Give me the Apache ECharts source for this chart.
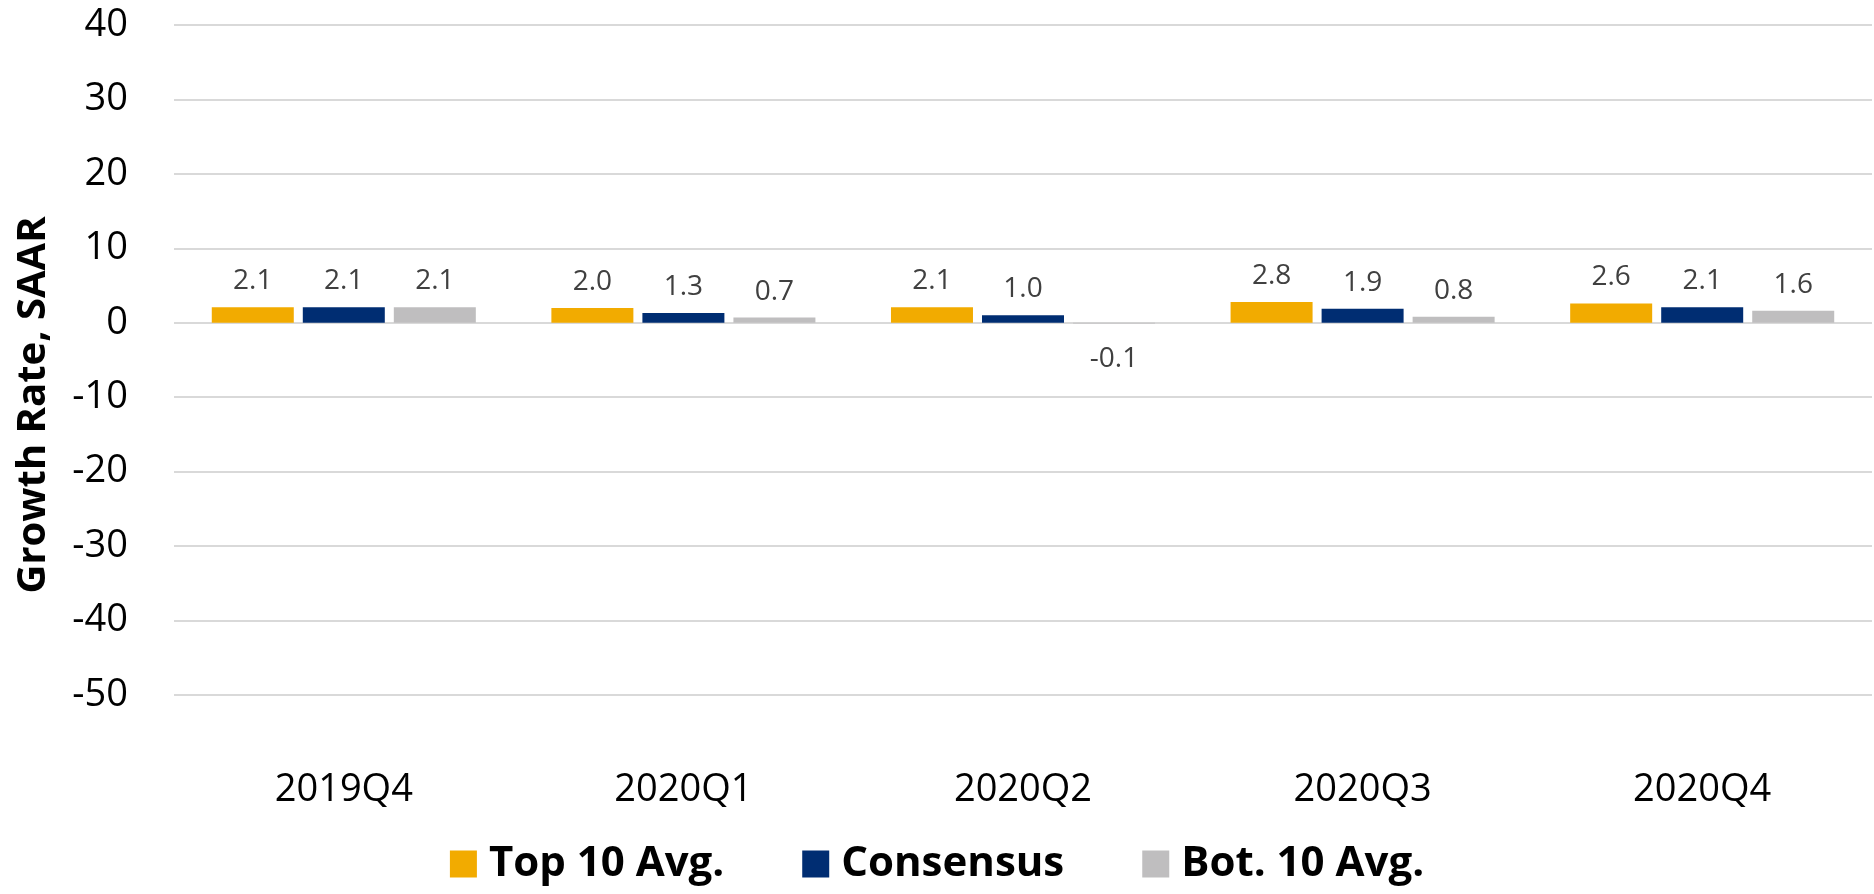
<!DOCTYPE html>
<html>
<head>
<meta charset="utf-8">
<script src="https://cdn.jsdelivr.net/npm/echarts@6/dist/echarts.min.js"></script>
<style>
  html, body { margin: 0; padding: 0; background: #fff; }
  #chart { width: 1874px; height: 894px; }
</style>
</head>
<body>
<div id="chart"></div>
<script>
// 数据
var categories = ["2019Q4", "2020Q1", "2020Q2", "2020Q3", "2020Q4"];
var top10Avg = [2.1, 2.0, 2.1, 2.8, 2.6];
var consensus = [2.1, 1.3, 1.0, 1.9, 2.1];
var bot10Avg = [2.1, 0.7, -0.1, 0.8, 1.6];
var seriesNames = ["Top 10 Avg.", "Consensus", "Bot. 10 Avg."];

var COLOR = {
  top: "#F2AB00",
  consensus: "#002D72",
  bot: "#BFBEBF",
  split: "#D9D9D9",
  axisText: "#000",
  label: "#404040"
};

function makeBar(name, data, color) {
  return {
    name: name,
    type: "bar",
    // 负值标签离零线稍远一点
    data: data.map(function (v) {
      return v < 0 ? { value: v, label: { distance: 22 } } : v;
    }),
    barWidth: 82,
    barGap: "11%",
    itemStyle: { color: color },
    label: {
      show: true,
      position: "outside",
      distance: 12,
      color: COLOR.label,
      fontFamily: "Open Sans",
      fontSize: 28,
      formatter: function (p) { return p.value.toFixed(1); }
    }
  };
}

var charts = echarts.init(document.getElementById("chart"));
var option = {
  backgroundColor: "#fff",
  animation: false,
  grid: { left: 174, right: 2, top: 25, bottom: 199 },
  legend: {
    bottom: 4,
    left: "center",
    icon: "rect",
    itemWidth: 27,
    itemHeight: 27,
    itemGap: 78,
    data: seriesNames,
    textStyle: {
      color: "#000",
      fontFamily: "Open Sans",
      fontWeight: "bold",
      fontSize: 42,
      padding: [0, 0, 0, 7]
    }
  },
  xAxis: {
    type: "category",
    data: categories,
    axisLine: { show: false },
    axisTick: { show: false },
    axisLabel: {
      margin: 76,
      color: COLOR.axisText,
      fontFamily: "Open Sans",
      fontSize: 38
    }
  },
  yAxis: {
    type: "value",
    min: -50,
    max: 40,
    interval: 10,
    name: "Growth Rate, SAAR",
    nameLocation: "middle",
    nameGap: 120,
    nameTextStyle: {
      color: "#000",
      fontFamily: "Open Sans",
      fontWeight: "bold",
      fontSize: 40,
      padding: [0, 90, 0, 0]
    },
    axisLine: { show: false },
    axisTick: { show: false },
    axisLabel: {
      margin: 46,
      color: COLOR.axisText,
      fontFamily: "Open Sans",
      fontSize: 38
    },
    splitLine: { lineStyle: { color: COLOR.split, width: 2 } }
  },
  series: [
    makeBar(seriesNames[0], top10Avg, COLOR.top),
    makeBar(seriesNames[1], consensus, COLOR.consensus),
    makeBar(seriesNames[2], bot10Avg, COLOR.bot)
  ]
};
charts.setOption(option);
window.addEventListener("resize", function () { charts.resize(); });
</script>
</body>
</html>
